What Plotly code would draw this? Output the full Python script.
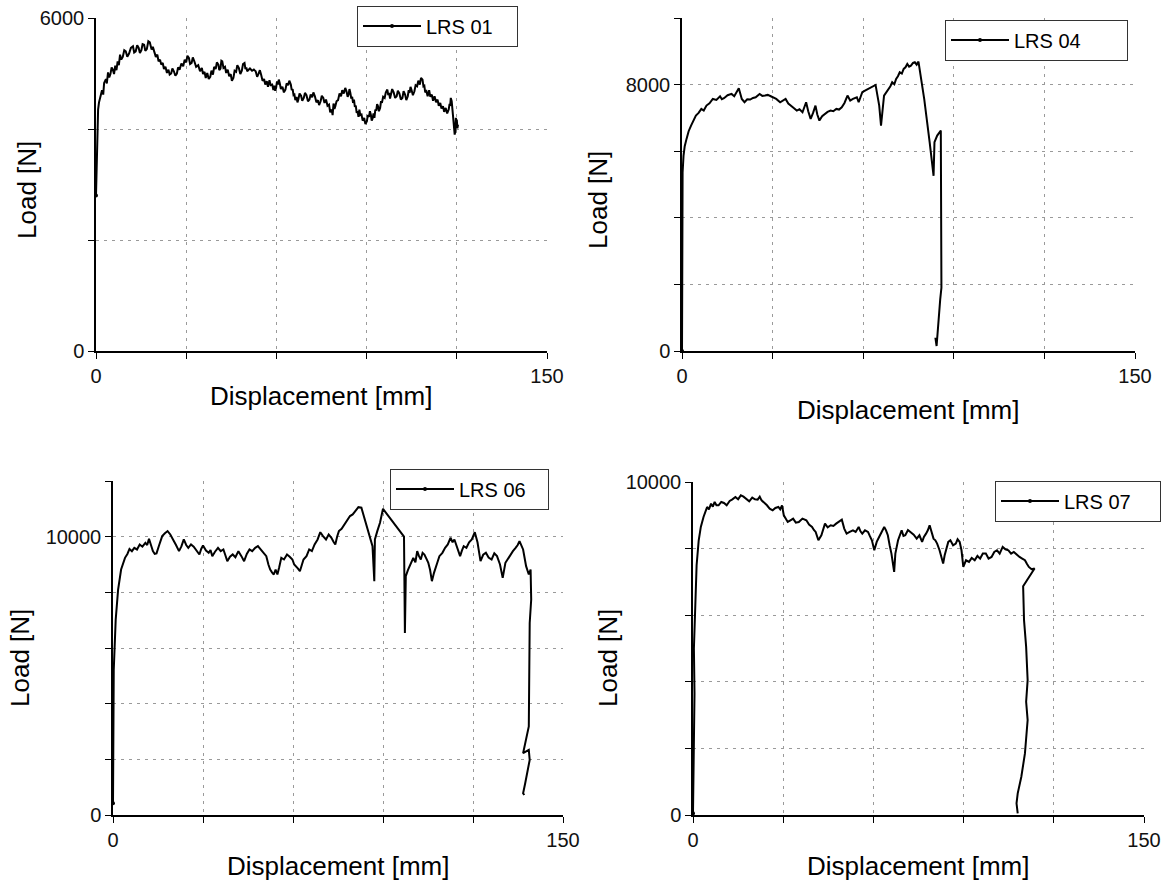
import plotly.graph_objects as go

# ---------------- data ----------------
disp_lrs01 = [0, 0.2, 0.4, 0.7, 1.0, 1.5, 2.0, 2.4, 2.7, 3.3, 3.6, 4.0, 4.4, 4.8, 5.2, 5.6, 6.0, 6.4, 6.8,
              7.2, 7.6, 8.0, 8.4, 8.9, 9.4, 9.9, 10.4, 11.0, 11.6, 12.3, 12.7, 13.2, 13.7, 14.2, 14.6,
              15.1, 15.5, 16.0, 16.4, 16.9, 17.4, 17.9, 18.2, 18.5, 18.9, 19.4, 19.9, 20.4, 20.8, 21.3,
              21.7, 22.2, 22.6, 23.1, 23.6, 24.1, 24.5, 25.0, 25.4, 25.9, 26.4, 26.9, 27.3, 27.8, 28.4,
              29.0, 29.5, 30.0, 30.4, 30.9, 31.3, 31.8, 32.2, 32.7, 33.3, 34.0, 34.6, 35.2, 35.6, 36.1,
              36.5, 37.0, 37.5, 38.0, 38.4, 38.9, 39.3, 39.8, 40.2, 40.7, 41.0, 41.4, 41.7, 42.0, 42.4,
              42.9, 43.3, 43.8, 44.3, 44.8, 45.2, 45.7, 46.1, 46.6, 47.0, 47.5, 48.0, 48.5, 48.9, 49.4,
              49.7, 50.0, 50.3, 50.6, 51.2, 51.9, 52.5, 53.1, 53.6, 54.0, 54.5, 54.9, 55.4, 55.9, 56.3,
              56.8, 57.2, 57.7, 58.1, 58.6, 59.0, 59.3, 59.6, 59.9, 60.2, 60.5, 60.8, 61.1, 61.5, 62.0,
              62.5, 63.0, 63.4, 63.9, 64.3, 64.8, 65.1, 65.4, 65.7, 66.0, 66.3, 66.7, 67.0, 67.3, 67.7,
              68.2, 68.6, 69.1, 69.5, 70.0, 70.5, 71.0, 71.4, 71.9, 72.3, 72.8, 73.3, 73.8, 74.2, 74.7,
              75.1, 75.6, 76.0, 76.5, 77.0, 77.5, 77.9, 78.4, 78.7, 79.0, 79.3, 79.6, 80.0, 80.5, 81.0,
              81.5, 81.9, 82.4, 82.9, 83.3, 83.7, 84.0, 84.3, 84.6, 84.9, 85.2, 85.5, 85.8, 86.1, 86.4,
              86.7, 87.0, 87.3, 87.6, 87.9, 88.3, 88.7, 89.2, 89.6, 90.1, 90.4, 90.8, 91.1, 91.4, 91.7,
              92.0, 92.3, 92.6, 92.9, 93.2, 93.5, 93.8, 94.1, 94.5, 94.8, 95.1, 95.5, 96.0, 96.4, 96.9,
              97.2, 97.5, 97.8, 98.1, 98.5, 99.0, 99.5, 100.0, 100.4, 100.9, 101.4, 101.9, 102.3, 102.8,
              103.2, 103.7, 104.0, 104.3, 104.6, 104.9, 105.4, 105.9, 106.3, 106.8, 107.2, 107.7, 108.1,
              108.6, 108.9, 109.2, 109.5, 109.9, 110.3, 110.8, 111.2, 111.7, 112.1, 112.6, 113.1, 113.6,
              114.0, 114.5, 114.9, 115.4, 115.8, 116.3, 116.8, 117.3, 117.6, 117.8, 118.0, 118.3, 118.5,
              118.8, 118.9, 119.1, 119.3, 119.5, 119.7, 119.8, 120.0, 120.2, 120.4]
load_lrs01 = [2800, 3300, 3990, 4350, 4480, 4590, 4700, 4620, 4830, 4900, 4820, 5020, 4930, 4990, 5110,
              5070, 4990, 5140, 5060, 5220, 5150, 5340, 5250, 5300, 5420, 5400, 5300, 5360, 5460, 5490,
              5380, 5400, 5510, 5460, 5370, 5420, 5530, 5520, 5410, 5440, 5580, 5560, 5460, 5430, 5480,
              5400, 5300, 5340, 5220, 5250, 5160, 5190, 5080, 5120, 5010, 5070, 4980, 5000, 5090, 5040,
              4960, 5000, 5110, 5070, 5180, 5130, 5250, 5200, 5320, 5280, 5170, 5190, 5290, 5220, 5120,
              5150, 5040, 5100, 4990, 5030, 4920, 5010, 4900, 4940, 5050, 4980, 5120, 5080, 5200, 5160,
              5060, 5090, 5230, 5220, 5100, 5120, 5010, 5070, 4950, 4990, 4870, 4920, 5050, 5030, 5150,
              5100, 4990, 5050, 5170, 5190, 5080, 5110, 5040, 5060, 5090, 5050, 5070, 5040, 4940, 4990,
              5060, 4980, 4870, 4900, 4800, 4860, 4760, 4880, 4790, 4800, 4700, 4780, 4690, 4740, 4860,
              4800, 4890, 4830, 4720, 4760, 4660, 4710, 4820, 4790, 4870, 4800, 4700, 4720, 4610, 4620,
              4520, 4580, 4480, 4530, 4640, 4600, 4510, 4560, 4650, 4610, 4500, 4530, 4620, 4570, 4660,
              4590, 4480, 4520, 4430, 4500, 4600, 4560, 4470, 4530, 4420, 4440, 4300, 4350, 4250, 4460,
              4360, 4410, 4500, 4520, 4640, 4590, 4700, 4640, 4740, 4680, 4580, 4620, 4720, 4650, 4550,
              4580, 4470, 4530, 4400, 4420, 4290, 4320, 4220, 4350, 4250, 4260, 4150, 4200, 4090, 4140,
              4250, 4220, 4320, 4260, 4150, 4190, 4280, 4200, 4350, 4330, 4450, 4410, 4320, 4380, 4500,
              4470, 4580, 4560, 4660, 4710, 4610, 4650, 4550, 4620, 4720, 4660, 4560, 4590, 4690, 4640,
              4530, 4560, 4680, 4620, 4520, 4590, 4700, 4650, 4760, 4710, 4610, 4680, 4790, 4770, 4870,
              4800, 4920, 4890, 4770, 4780, 4660, 4680, 4590, 4700, 4580, 4620, 4510, 4590, 4480, 4530,
              4420, 4470, 4370, 4410, 4310, 4380, 4280, 4350, 4450, 4420, 4560, 4500, 4380, 4290, 4130,
              4050, 3900, 3960, 4200, 4150, 4170, 4010, 4080]

disp_lrs04 = [0, 0.0, 0.1, 0.2, 0.5, 0.9, 1.5, 2.2, 3.0, 3.8, 4.6, 5.5, 6.4, 7.2, 8.1, 9.1, 10.2, 11.4,
              12.6, 13.2, 13.9, 15.1, 16.4, 17.3, 18.2, 18.8, 19.8, 20.7, 21.6, 22.6, 23.5, 24.4, 25.7,
              26.6, 27.5, 28.4, 29.4, 30.3, 31.2, 32.5, 33.4, 34.3, 35.2, 36.2, 37.1, 38.0, 38.9, 39.9,
              41.1, 41.8, 42.6, 43.4, 44.2, 44.8, 45.5, 46.4, 47.3, 48.2, 49.2, 50.1, 51.1, 52.0, 52.9,
              53.8, 54.8, 55.7, 56.6, 57.9, 58.5, 59.7, 60.6, 61.6, 62.9, 64.1, 65.3, 65.9, 66.9, 67.6,
              68.3, 69.0, 69.6, 70.3, 70.9, 71.5, 72.1, 72.8, 73.4, 74.0, 74.6, 75.2, 75.8, 76.5, 77.1,
              77.7, 78.3, 80.2, 82.0, 83.3, 83.6, 84.5, 85.7, 86.1, 85.9, 85.5, 84.9, 84.5, 84.3, 83.9]
load_lrs04 = [0, 2500, 4360, 5360, 5860, 6150, 6370, 6600, 6770, 6950, 7070, 7150, 7270, 7220, 7370,
              7440, 7570, 7540, 7650, 7560, 7590, 7680, 7720, 7650, 7790, 7890, 7570, 7470, 7560, 7550,
              7600, 7620, 7720, 7660, 7670, 7690, 7650, 7600, 7570, 7470, 7520, 7570, 7430, 7370, 7290,
              7220, 7260, 7170, 7470, 7200, 6970, 7150, 7370, 7100, 6920, 7050, 7120, 7180, 7220, 7200,
              7270, 7250, 7320, 7450, 7670, 7520, 7570, 7620, 7470, 7770, 7820, 7870, 7920, 7990, 7370,
              6770, 7670, 7760, 7870, 7950, 8070, 8010, 8170, 8250, 8370, 8330, 8470, 8520, 8620, 8540,
              8570, 8650, 8670, 8600, 8690, 7570, 6270, 5260, 6270, 6470, 6620, 2260, 1900, 1550, 900,
              450, 150, 400]

disp_lrs06 = [0, 0.25, 0.9, 1.7, 2.7, 4.0, 4.8, 5.5, 6.3, 7.1, 8.0, 8.9, 9.8, 10.8, 11.4, 12.0, 12.6,
              13.3, 13.9, 14.5, 15.4, 16.4, 17.3, 18.2, 19.1, 20.1, 21.0, 22.0, 22.8, 23.6, 24.4, 25.1,
              26.0, 26.9, 27.8, 28.8, 29.4, 30.0, 31.0, 31.9, 32.5, 33.1, 34.0, 35.0, 35.9, 36.8, 37.4,
              38.1, 39.0, 39.9, 40.8, 41.8, 42.8, 43.7, 44.6, 45.5, 46.4, 47.4, 48.3, 49.3, 50.2, 51.1,
              51.8, 52.4, 53.0, 53.6, 54.2, 54.8, 55.4, 56.1, 57.0, 58.0, 58.9, 59.8, 60.4, 61.0, 61.6,
              62.3, 62.9, 63.5, 64.5, 65.4, 66.3, 67.2, 68.2, 69.1, 70.0, 71.0, 71.9, 72.8, 73.5, 74.1,
              74.7, 75.3, 76.2, 77.2, 78.1, 79.0, 79.9, 80.9, 81.8, 82.8, 84.6, 86.5, 87.1, 87.3, 88.1,
              89.0, 90.0, 97.0, 97.3, 97.6, 98.3, 98.9, 99.5, 100.1, 100.8, 101.4, 102.0, 102.6, 103.2,
              103.8, 104.5, 105.1, 105.7, 106.3, 107.0, 107.6, 108.2, 108.8, 109.8, 110.7, 111.6, 112.5,
              113.2, 113.8, 114.8, 115.7, 116.3, 116.9, 117.8, 118.7, 119.6, 120.6, 121.5, 122.5, 123.4,
              124.3, 125.2, 126.2, 127.1, 128.0, 129.0, 129.9, 130.8, 131.6, 132.4, 133.3, 134.2, 134.9,
              135.5, 136.1, 136.7, 137.7, 138.6, 139.2, 139.4, 138.9, 138.8, 138.6, 136.7, 138.6, 138.9,
              137.9, 137.4, 136.7, 137.1]
load_lrs06 = [420, 5220, 7020, 8100, 8820, 9240, 9380, 9560, 9480, 9600, 9540, 9720, 9640, 9780, 9700,
              9920, 9720, 9480, 9380, 9400, 9700, 10020, 10120, 10200, 10080, 9900, 9700, 9480, 9650,
              9900, 9700, 9600, 9720, 9640, 9520, 9360, 9560, 9680, 9500, 9420, 9520, 9300, 9460, 9600,
              9480, 9540, 9350, 9120, 9280, 9360, 9260, 9480, 9300, 9120, 9380, 9540, 9480, 9600, 9660,
              9540, 9440, 9300, 9000, 8820, 8720, 8640, 8820, 8640, 8900, 9240, 9180, 9360, 9280, 9180,
              9000, 8940, 8860, 8760, 8980, 9180, 9300, 9540, 9480, 9720, 9900, 10160, 10020, 9900, 10080,
              9960, 9820, 9720, 10000, 10200, 10280, 10440, 10560, 10740, 10800, 10920, 11060, 11040,
              10380, 9660, 8400, 9900, 10200, 10500, 11000, 10000, 6540, 8580, 8800, 8940, 9100, 9240,
              9080, 9480, 9300, 9180, 9420, 9360, 9200, 9060, 8800, 8400, 8700, 8940, 9100, 9300, 9420,
              9600, 9720, 9960, 9800, 9900, 9600, 9300, 9500, 9660, 9600, 9800, 9900, 10160, 9800, 9120,
              9350, 9420, 9250, 9180, 9400, 9300, 9000, 8520, 9060, 9200, 9360, 9480, 9600, 9700, 9840,
              9700, 9540, 8940, 8640, 8820, 7740, 6900, 4380, 3180, 2220, 2340, 1980, 1500, 1140, 780,
              720]

disp_lrs07 = [0, 0.3, 0.5, 0.3, 0.8, 1.2, 1.9, 2.6, 3.5, 4.7, 5.3, 6.0, 6.6, 7.2, 7.8, 8.5, 9.4, 10.3,
              11.2, 12.2, 13.1, 14.1, 15.0, 15.9, 16.8, 17.8, 18.7, 19.7, 20.6, 21.5, 22.2, 22.8, 23.7,
              24.6, 25.5, 26.5, 27.4, 28.4, 29.0, 29.6, 30.2, 30.8, 31.5, 32.4, 33.3, 34.2, 35.2, 36.4,
              37.7, 38.6, 39.6, 40.2, 40.8, 41.7, 42.7, 43.9, 44.8, 45.8, 46.7, 47.6, 48.5, 49.5, 50.3,
              51.1, 52.1, 53.2, 54.1, 55.1, 55.7, 56.3, 57.2, 58.2, 58.8, 59.5, 60.3, 61.1, 61.9, 62.7,
              63.6, 64.2, 64.8, 65.4, 66.0, 66.9, 67.3, 68.2, 68.8, 69.4, 70.0, 70.6, 71.5, 72.5, 73.4,
              74.4, 75.3, 76.2, 76.8, 77.5, 78.1, 78.7, 79.3, 80.0, 80.6, 81.2, 82.0, 82.7, 83.2, 83.7,
              84.3, 84.9, 85.6, 86.5, 87.4, 88.0, 88.7, 89.3, 89.9, 90.8, 91.8, 92.7, 93.7, 94.6, 95.5,
              96.4, 97.4, 98.3, 99.3, 100.2, 101.1, 102.0, 103.0, 103.9, 104.9, 105.8, 106.7, 107.6,
              108.6, 109.5, 110.4, 111.0, 111.7, 112.6, 113.6, 109.8, 110.1, 110.8, 111.3, 110.8, 111.3,
              110.4, 109.2, 108.0, 107.6, 108.0]
load_lrs07 = [50, 1950, 3650, 5000, 6500, 7500, 8250, 8650, 8950, 9250, 9180, 9350, 9260, 9400, 9300,
              9300, 9400, 9370, 9300, 9430, 9480, 9550, 9480, 9600, 9560, 9500, 9420, 9530, 9480, 9470,
              9560, 9450, 9380, 9300, 9200, 9150, 9220, 9250, 9180, 9300, 9000, 8920, 8800, 8850, 8900,
              8780, 8800, 8900, 8850, 8720, 8650, 8560, 8500, 8250, 8400, 8750, 8640, 8700, 8680, 8750,
              8820, 8870, 8600, 8450, 8500, 8550, 8500, 8650, 8520, 8450, 8550, 8500, 8380, 8250, 7950,
              8200, 8350, 8500, 8650, 8550, 8400, 8100, 7850, 7300, 7850, 8250, 8400, 8550, 8380, 8400,
              8560, 8500, 8420, 8300, 8400, 8200, 8350, 8450, 8550, 8700, 8500, 8300, 8250, 8150, 7950,
              7750, 7550, 7800, 8000, 8200, 8250, 8100, 8150, 8280, 8200, 7950, 7450, 7650, 7600, 7720,
              7650, 7780, 7700, 7850, 7850, 7700, 7750, 7900, 7950, 7850, 8050, 7980, 7950, 7850, 7900,
              7820, 7750, 7700, 7650, 7550, 7450, 7380, 7400, 6870, 5850, 5050, 4050, 3400, 2850, 1850,
              1150, 650, 350, 50]

series_names = ["LRS 01", "LRS 04", "LRS 06", "LRS 07"]

x_tickvals = [0, 30, 60, 90, 120, 150]
x_ticktext = ["0", "", "", "", "", "150"]

y_tickvals_01 = [0, 2000, 4000, 6000]
y_ticktext_01 = ["0", "", "", "6000"]
y_tickvals_04 = [0, 2000, 4000, 6000, 8000, 10000]
y_ticktext_04 = ["0", "", "", "", "8000", ""]
y_tickvals_06 = [0, 2000, 4000, 6000, 8000, 10000, 12000]
y_ticktext_06 = ["0", "", "", "", "", "10000", ""]
y_tickvals_07 = [0, 2000, 4000, 6000, 8000, 10000]
y_ticktext_07 = ["0", "", "", "", "", "10000"]

x_title = "Displacement [mm]"
y_title = "Load [N]"

# ---------------- layout geometry (pixels) ----------------
W, H = 1163, 890
FONT = "Liberation Sans, Arial, sans-serif"

panels = [
    dict(x=disp_lrs01, y=load_lrs01, name=series_names[0], xpx=(96, 547), ypx=(18, 351), ymax=6000,
         tv=y_tickvals_01, tt=y_ticktext_01, leg=(357, 26), lw=86, xt=396, yt=(27, 190)),
    dict(x=disp_lrs04, y=load_lrs04, name=series_names[1], xpx=(682, 1135), ypx=(18, 351), ymax=10000,
         tv=y_tickvals_04, tt=y_ticktext_04, leg=(945, 40), lw=108, xt=410, yt=(598, 200)),
    dict(x=disp_lrs06, y=load_lrs06, name=series_names[2], xpx=(113, 563), ypx=(481, 815), ymax=12000,
         tv=y_tickvals_06, tt=y_ticktext_06, leg=(390, 489), lw=84, xt=866, yt=(20, 658)),
    dict(x=disp_lrs07, y=load_lrs07, name=series_names[3], xpx=(693, 1144), ypx=(482, 815), ymax=10000,
         tv=y_tickvals_07, tt=y_ticktext_07, leg=(995, 501), lw=91, xt=866, yt=(608, 658)),
]

fig = go.Figure()
layout = dict(width=W, height=H, margin=dict(l=0, r=0, t=0, b=0, autoexpand=False),
              paper_bgcolor="white", plot_bgcolor="white",
              font=dict(family=FONT, color="black"), annotations=[])

for i, p in enumerate(panels, start=1):
    sfx = "" if i == 1 else str(i)
    lg = "legend" if i == 1 else "legend%d" % i
    fig.add_trace(go.Scatter(x=p["x"], y=p["y"], mode="lines+markers", name=p["name"],
                             line=dict(color="black", width=2.0),
                             marker=dict(size=4, color="black", maxdisplayed=1),
                             xaxis="x" + sfx, yaxis="y" + sfx, legend=lg, showlegend=True))
    common = dict(showline=True, linecolor="black", linewidth=1.5, ticks="outside", ticklen=6,
                  tickwidth=1.3, tickcolor="black", showgrid=True, gridcolor="#9a9a9a", gridwidth=1,
                  griddash="3px,5px", zeroline=False, tickfont=dict(family=FONT, size=20, color="#111"),
                  tickmode="array", automargin=False)
    layout["xaxis" + sfx] = dict(common, domain=[p["xpx"][0] / W, p["xpx"][1] / W], range=[0, 150],
                                 tickvals=x_tickvals, ticktext=x_ticktext, anchor="y" + sfx)
    layout["yaxis" + sfx] = dict(common, domain=[1 - p["ypx"][1] / H, 1 - p["ypx"][0] / H],
                                 range=[0, p["ymax"]], tickvals=p["tv"], ticktext=p["tt"],
                                 anchor="x" + sfx)
    layout[lg] = dict(x=p["leg"][0] / W, y=1 - p["leg"][1] / H, xanchor="left", yanchor="middle",
                      xref="container", yref="container",
                      orientation="h", itemwidth=58, entrywidth=p["lw"], entrywidthmode="pixels",
                      bgcolor="white", bordercolor="#333333", borderwidth=1,
                      font=dict(family=FONT, size=20, color="black"))
    layout["annotations"].append(dict(text=x_title, xref="paper", yref="paper",
                                      x=(p["xpx"][0] + p["xpx"][1]) / 2 / W, y=1 - p["xt"] / H,
                                      xanchor="center", yanchor="middle", showarrow=False,
                                      font=dict(family=FONT, size=26, color="black")))
    layout["annotations"].append(dict(text=y_title, xref="paper", yref="paper",
                                      x=p["yt"][0] / W, y=1 - p["yt"][1] / H, textangle=-90,
                                      xanchor="center", yanchor="middle", showarrow=False,
                                      font=dict(family=FONT, size=26, color="black")))

fig.update_layout(**layout)
fig.write_html("out.html", config={"displayModeBar": False},
               post_script="document.body.style.margin='0px';")
